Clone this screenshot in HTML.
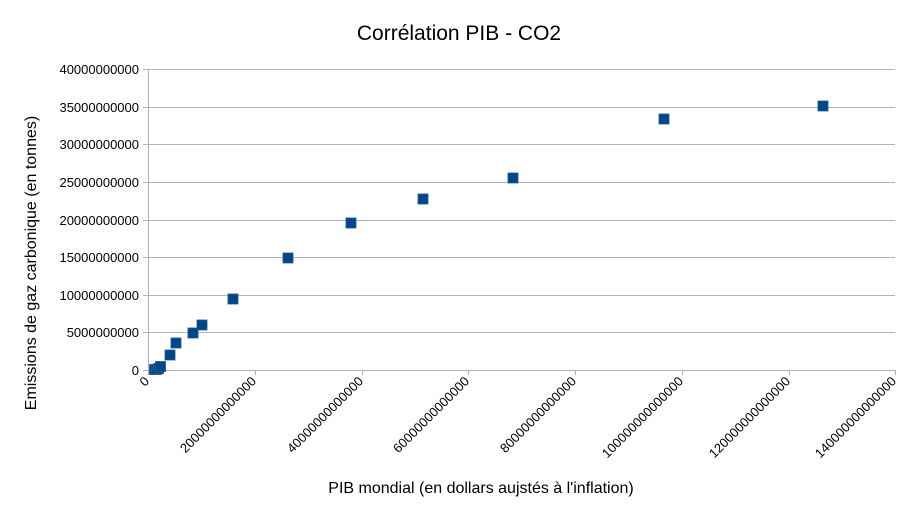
<!DOCTYPE html>
<html><head><meta charset="utf-8"><style>body{margin:0;background:#fff}svg{display:block;font-family:"Liberation Sans",sans-serif}</style></head><body>
<svg width="920" height="518" viewBox="0 0 920 518">
<rect width="920" height="518" fill="#fff"/>
<text x="459" y="40" font-size="21" text-anchor="middle" fill="#000">Corrélation PIB - CO2</text>
<g stroke="#b3b3b3" stroke-width="1">
<line x1="143" y1="69.5" x2="895" y2="69.5"/>
<line x1="143" y1="107.5" x2="895" y2="107.5"/>
<line x1="143" y1="144.5" x2="895" y2="144.5"/>
<line x1="143" y1="182.5" x2="895" y2="182.5"/>
<line x1="143" y1="220.5" x2="895" y2="220.5"/>
<line x1="143" y1="257.5" x2="895" y2="257.5"/>
<line x1="143" y1="295.5" x2="895" y2="295.5"/>
<line x1="143" y1="332.5" x2="895" y2="332.5"/>
<line x1="143" y1="370.5" x2="895" y2="370.5"/>
<line x1="148.5" y1="69" x2="148.5" y2="375"/>
<line x1="255.5" y1="370" x2="255.5" y2="375"/>
<line x1="362.5" y1="370" x2="362.5" y2="375"/>
<line x1="468.5" y1="370" x2="468.5" y2="375"/>
<line x1="575.5" y1="370" x2="575.5" y2="375"/>
<line x1="682.5" y1="370" x2="682.5" y2="375"/>
<line x1="789.5" y1="370" x2="789.5" y2="375"/>
<line x1="895.5" y1="370" x2="895.5" y2="375"/>
</g>
<g font-size="13" text-anchor="end" fill="#000">
<text x="139" y="74">40000000000</text>
<text x="139" y="112">35000000000</text>
<text x="139" y="149">30000000000</text>
<text x="139" y="187">25000000000</text>
<text x="139" y="225">20000000000</text>
<text x="139" y="262">15000000000</text>
<text x="139" y="300">10000000000</text>
<text x="139" y="337">5000000000</text>
<text x="139" y="375">0</text>
</g>
<g font-size="13" text-anchor="end" fill="#000">
<text transform="translate(150,382) rotate(-45)">0</text>
<text transform="translate(257,382) rotate(-45)">20000000000000</text>
<text transform="translate(364,382) rotate(-45)">40000000000000</text>
<text transform="translate(470,382) rotate(-45)">60000000000000</text>
<text transform="translate(577,382) rotate(-45)">80000000000000</text>
<text transform="translate(684,382) rotate(-45)">100000000000000</text>
<text transform="translate(791,382) rotate(-45)">120000000000000</text>
<text transform="translate(897,382) rotate(-45)">140000000000000</text>
</g>
<text x="481" y="493" font-size="16" text-anchor="middle">PIB mondial (en dollars aujstés à l'inflation)</text>
<text transform="translate(36,263) rotate(-90)" font-size="16" text-anchor="middle">Emissions de gaz carbonique (en tonnes)</text>
<g fill="#004586" stroke="#1a5a9a" stroke-width="0.8">
<rect x="149.5" y="364.5" width="10" height="10"/>
<rect x="151.5" y="364.5" width="10" height="10"/>
<rect x="153.5" y="363.5" width="10" height="10"/>
<rect x="155.5" y="361.5" width="10" height="10"/>
<rect x="165" y="350" width="10" height="10"/>
<rect x="171" y="338" width="10" height="10"/>
<rect x="188" y="328" width="10" height="10"/>
<rect x="197" y="320" width="10" height="10"/>
<rect x="228" y="294" width="10" height="10"/>
<rect x="283" y="253" width="10" height="10"/>
<rect x="346" y="218" width="10" height="10"/>
<rect x="418" y="194" width="10" height="10"/>
<rect x="508" y="173" width="10" height="10"/>
<rect x="659" y="114" width="10" height="10"/>
<rect x="818" y="101" width="10" height="10"/>
</g>
</svg>
</body></html>
